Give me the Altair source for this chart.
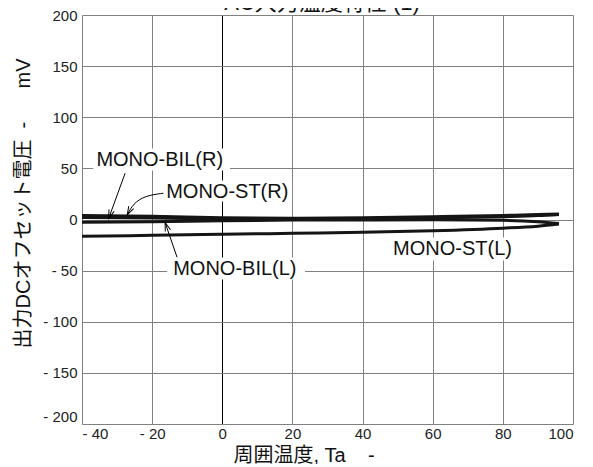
import math
import altair as alt
import pandas as pd

# ---------------- data ----------------
temps = [-40, -20, 0, 20, 40, 60, 80, 90, 96]
st_r = [4.0, 3.2, 1.8, 1.2, 1.8, 2.8, 4.0, 4.8, 5.5]
bil_r = [2.0, 1.5, 0.6, 0.3, 0.6, 1.5, 2.8, 3.8, 5.0]
bil_l = [-2.6, -2.2, -1.2, -0.6, -0.4, -0.3, -0.8, -2.2, -4.0]
st_l = [-16.5, -15.5, -14.5, -13.5, -12.5, -11.0, -8.5, -6.5, -4.5]
series_names = ["MONO-ST(R)", "MONO-BIL(R)", "MONO-BIL(L)", "MONO-ST(L)"]

x_ticks = [-40, -20, 0, 20, 40, 60, 80, 100]
y_ticks = [-200, -150, -100, -50, 0, 50, 100, 150, 200]

# annotation labels (data units: left edge / baseline)
label_text = ["MONO-BIL(R)", "MONO-ST(R)", "MONO-BIL(L)", "MONO-ST(L)"]
label_x = [-35.9, -16.0, -14.0, 48.7]
label_y = [52.8, 21.5, -53.8, -35.2]
# white boxes behind labels (data units)
box_x1 = [-36.8, -16.3, -15.7, 47.8]
box_x2 = [2.2, 19.9, 23.6, 83.4]
box_y1 = [69.4, 38.1, -37.2, -17.6]
box_y2 = [47.9, 17.6, -58.7, -40.1]
# arrows (data units), last point is the tip
arrow_pts = {
    "a1": [(-27.7, 45.3), (-32.4, 1.0)],
    "a2": [(-16.8, 25.7), (-22.0, 23.3), (-25.4, 15.6), (-27.1, 4.5)],
    "a3": [(-12.9, -36.9), (-16.3, -3.0)],
}

title_text = "AC入力温度特性 (1)"
x_title = "周囲温度, Ta\u00a0\u00a0\u00a0\u00a0-"
y_title = "出力DCオフセット電圧\u00a0\u00a0-\u00a0\u00a0\u00a0\u00a0\u00a0\u00a0mV"

# ---------------- layout ----------------
W, H = 491, 409
XMIN, XMAX, YMIN, YMAX = -40, 100, -200, 200
FONT = "Liberation Sans, Arial, Noto Sans CJK JP"

rows = []
for name, vals in zip(series_names, [st_r, bil_r, bil_l, st_l]):
    for t, v in zip(temps, vals):
        rows.append({"series": name, "temp": t, "val": v})
df = pd.DataFrame(rows)

labels = pd.DataFrame({"text": label_text, "x": label_x, "y": label_y})
boxes = pd.DataFrame({"x1": box_x1, "x2": box_x2, "y1": box_y1, "y2": box_y2})

arows, heads = [], []
pxx = W / (XMAX - XMIN)
pxy = H / (YMAX - YMIN)
for k, pts in arrow_pts.items():
    for i, (ax, ay) in enumerate(pts):
        arows.append({"id": k, "o": i, "x": ax, "y": ay})
    (x0, y0), (x1, y1) = pts[-2], pts[-1]
    dx = (x1 - x0) * pxx
    dy = -(y1 - y0) * pxy
    ang = math.degrees(math.atan2(dx, -dy)) % 360
    heads.append({"x": x1, "y": y1, "angle": ang})
arr = pd.DataFrame(arows)
hd = pd.DataFrame(heads)

xs = alt.Scale(domain=[XMIN, XMAX], nice=False)
ys = alt.Scale(domain=[YMIN, YMAX], nice=False)

lab_expr = "datum.value < 0 ? '- ' + abs(datum.value) : '' + datum.value"

x_axis = alt.Axis(
    values=x_ticks, labelExpr=lab_expr, ticks=False, domain=False,
    labelFont=FONT, labelFontSize=15, labelColor="#222", labelPadding=2,
    gridColor={"condition": {"test": "datum.value === 0", "value": "#000"}, "value": "#808080"},
    gridWidth=1, title=x_title, titleFont=FONT, titleFontSize=20,
    titleFontWeight="normal", titleColor="#111", titleAlign="left",
    titleAnchor="start", titleX=151, titleY=37, titleBaseline="alphabetic",
)
y_axis = alt.Axis(
    values=y_ticks, labelExpr=lab_expr, ticks=False, domain=False,
    labelFont=FONT, labelFontSize=15, labelColor="#222", labelPadding=5,
    labelBaseline={"condition": {"test": "datum.value === -200", "value": "bottom"}, "value": "middle"},
    gridColor="#808080", gridWidth=1, title=y_title, titleFont=FONT,
    titleFontSize=20, titleFontWeight="normal", titleColor="#111",
    titleAngle=270, titleAlign="center", titleBaseline="middle",
    titleX=-59, titleY=188,
)

lines = alt.Chart(df).mark_line(color="#151515", strokeWidth=3, interpolate="monotone").encode(
    x=alt.X("temp:Q", scale=xs, axis=x_axis),
    y=alt.Y("val:Q", scale=ys, axis=y_axis),
    detail="series:N",
)

rects = alt.Chart(boxes).mark_rect(color="white", opacity=1).encode(
    x=alt.X("x1:Q", scale=xs), x2="x2:Q",
    y=alt.Y("y1:Q", scale=ys), y2="y2:Q",
)

arrows = alt.Chart(arr).mark_line(color="black", strokeWidth=1, interpolate="basis").encode(
    x=alt.X("x:Q", scale=xs), y=alt.Y("y:Q", scale=ys),
    detail="id:N", order="o:Q",
)

heads_c = alt.Chart(hd).mark_point(
    shape="M-0.55,1.7L0,0L0.55,1.7", filled=False, size=100, strokeWidth=1,
    color="black", opacity=1,
).encode(
    x=alt.X("x:Q", scale=xs), y=alt.Y("y:Q", scale=ys),
    angle=alt.Angle("angle:Q", scale=None),
)

texts = alt.Chart(labels).mark_text(
    align="left", baseline="alphabetic", font=FONT, fontSize=20, color="#111",
).encode(x=alt.X("x:Q", scale=xs), y=alt.Y("y:Q", scale=ys), text="text:N")

title_c = alt.Chart(pd.DataFrame({"t": [title_text]})).mark_text(
    align="center", baseline="alphabetic", font=FONT, fontSize=22, color="#111",
).encode(x=alt.value(240), y=alt.value(-5), text="t:N")

chart = alt.layer(lines, rects, arrows, heads_c, texts, title_c).properties(
    width=W, height=H,
    autosize=alt.AutoSizeParams(type="none"),
    padding={"left": 74, "top": 7, "right": 12, "bottom": 40},
).configure_view(stroke="black", strokeWidth=1.5).configure(background="white")

chart.save("out.html", embed_options={"renderer": "svg", "actions": False})
